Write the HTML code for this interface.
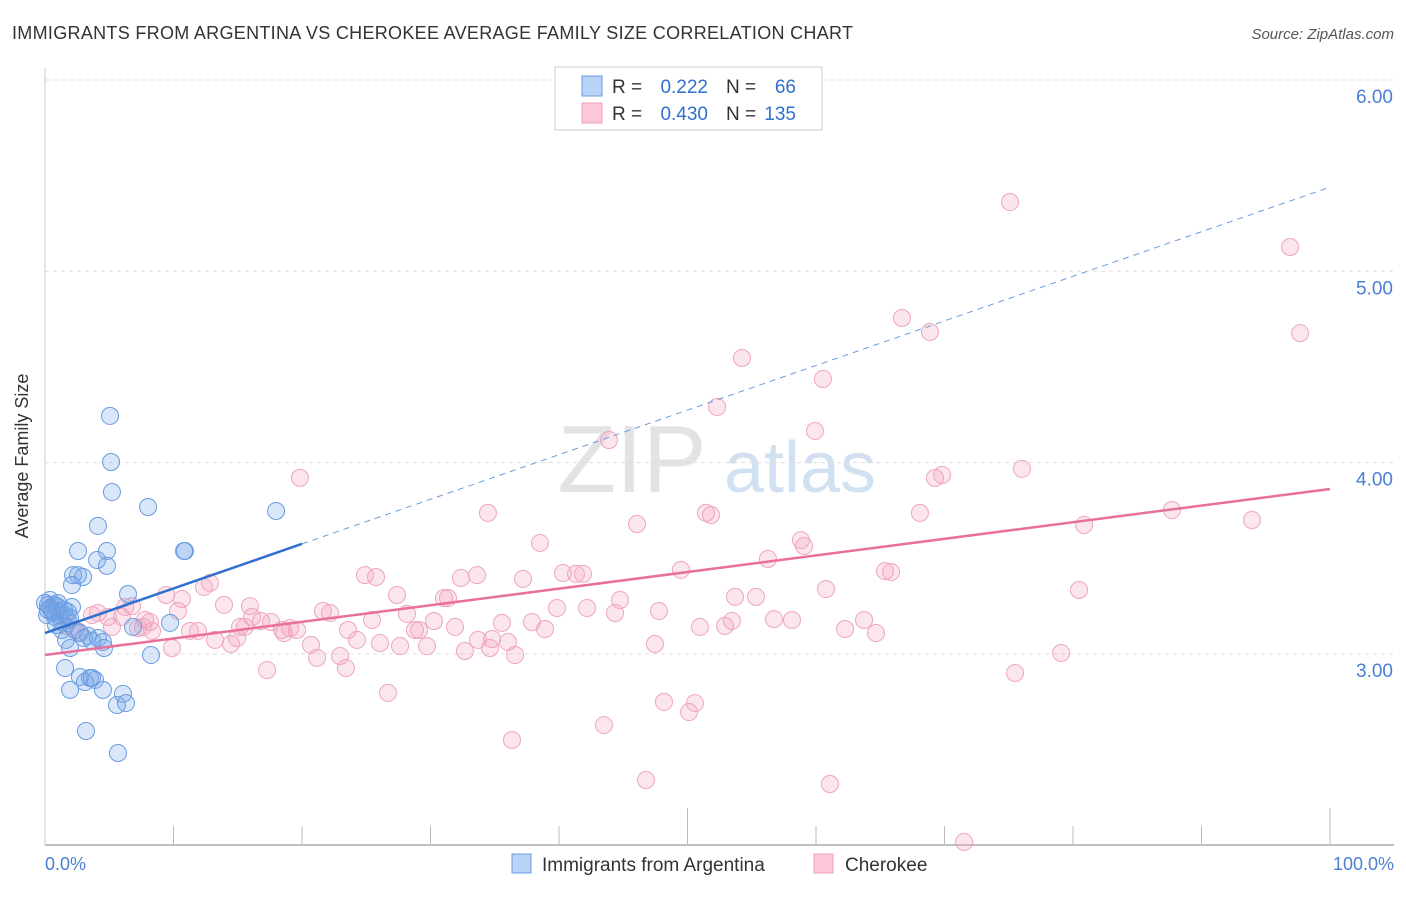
<!DOCTYPE html>
<html><head><meta charset="utf-8"><style>
body{margin:0;background:#fff;font-family:"Liberation Sans",sans-serif}
svg text{font-family:"Liberation Sans",sans-serif}
</style></head><body>
<svg id="c" width="1406" height="892">
<text x="12" y="39" font-size="18" fill="#333" textLength="841">IMMIGRANTS FROM ARGENTINA VS CHEROKEE AVERAGE FAMILY SIZE CORRELATION CHART</text>
<text x="1394" y="39" font-size="15" fill="#555" font-style="italic" text-anchor="end">Source: ZipAtlas.com</text>
<g><text x="632" y="492" font-size="96" fill="#ddd" font-family="Liberation Serif" text-anchor="middle" opacity="0.8">ZIP</text><text x="800" y="492" font-size="72" fill="#c8daf0" text-anchor="middle" opacity="0.8">atlas</text></g>
<g id="grid"></g><g id="axes"></g><g id="pts"></g><g id="lines"></g>
<text x="28" y="456" font-size="18" fill="#333" text-anchor="middle" transform="rotate(-90 28 456)">Average Family Size</text>
<text x="45" y="870" font-size="18" fill="#4a7fd4">0.0%</text>
<text x="1394" y="870" font-size="18" fill="#4a7fd4" text-anchor="end">100.0%</text>
<g>
<rect x="555" y="67" width="267" height="63" fill="#fff" stroke="#ccc"/>
<rect x="582" y="76" width="20" height="20" fill="#b8d3f5" stroke="#6a9be0"/>
<rect x="582" y="103" width="20" height="20" fill="#fcc8d8" stroke="#eca0b8"/>
<text x="612" y="93" font-size="19" fill="#333">R =</text>
<text x="708" y="93" font-size="19" fill="#2f6fd0" text-anchor="end">0.222</text>
<text x="726" y="93" font-size="19" fill="#333">N =</text>
<text x="796" y="93" font-size="19" fill="#2f6fd0" text-anchor="end">66</text>
<text x="612" y="120" font-size="19" fill="#333">R =</text>
<text x="708" y="120" font-size="19" fill="#2f6fd0" text-anchor="end">0.430</text>
<text x="726" y="120" font-size="19" fill="#333">N =</text>
<text x="796" y="120" font-size="19" fill="#2f6fd0" text-anchor="end">135</text>
</g>
<g>
<rect x="512" y="854" width="19" height="19" fill="#b8d3f5" stroke="#6a9be0"/>
<text x="542" y="871" font-size="19" fill="#333">Immigrants from Argentina</text>
<rect x="814" y="854" width="19" height="19" fill="#fcc8d8" stroke="#eca0b8"/>
<text x="845" y="871" font-size="19" fill="#333">Cherokee</text>
</g>
</svg>
<script>
const yTicks=[3,4,5,6];
const yTickLabels=["3.00","4.00","5.00","6.00"];
const blueX=[5.06,5.14,5.21,8.02,4.12,2.57,4.82,4.05,4.82,2.18,2.57,2.96,2.10,17.98,10.89,10.82,6.46,0.39,0.23,0.54,1.17,2.10,1.56,0.78,1.79,2.72,6.85,9.73,1.32,3.35,4.12,4.51,1.63,1.95,4.59,8.25,1.56,2.72,3.50,3.89,3.11,3.66,1.95,4.51,6.07,5.60,6.30,3.19,5.68,0.70,1.01,1.32,2.33,0,0.16,0.86,0.39,0.62,0.93,1.17,1.48,1.79,0.23,1.95,3.03,3.66];
const blueY=[4.244,4.003,3.846,3.768,3.669,3.538,3.538,3.491,3.460,3.412,3.412,3.402,3.360,3.747,3.538,3.538,3.313,3.282,3.256,3.230,3.219,3.245,3.203,3.193,3.177,3.109,3.141,3.162,3.125,3.094,3.083,3.062,3.073,3.031,3.031,2.994,2.926,2.879,2.874,2.864,2.853,2.874,2.812,2.812,2.791,2.733,2.743,2.597,2.482,3.256,3.266,3.167,3.125,3.266,3.203,3.151,3.240,3.219,3.250,3.203,3.230,3.219,3.230,3.188,3.083,3.067];
const pinkX=[75.10,96.89,97.67,66.69,68.87,54.24,60.54,52.30,59.92,43.89,19.84,76.03,69.81,69.26,34.47,46.07,51.44,51.83,68.09,87.70,93.93,80.86,38.52,58.83,59.07,56.26,49.49,65.37,65.84,24.90,25.76,32.37,33.62,37.20,40.31,41.32,41.87,12.84,12.37,60.78,80.47,27.39,31.05,31.36,53.70,55.33,44.75,10.66,9.42,6.23,6.77,13.93,15.95,42.18,39.84,44.36,47.78,4.12,4.90,3.66,10.35,5.99,7.78,8.17,7.24,16.11,16.81,17.59,21.63,22.18,25.45,28.17,30.27,35.56,37.90,38.91,56.73,58.13,63.74,53.46,50.97,52.92,31.91,28.79,29.11,23.58,18.44,19.07,18.60,19.61,15.18,15.56,11.91,11.28,8.33,7.63,5.21,2.65,2.10,1.63,14.94,13.23,14.47,24.28,26.07,27.63,29.73,20.70,33.70,34.79,36.03,34.63,32.68,9.88,47.47,62.26,64.67,21.17,22.96,23.42,17.28,36.58,79.07,75.49,48.17,50.58,50.12,26.69,43.50,36.34,46.77,61.09,71.52,0.93,0.54];
const pinkY=[5.362,5.127,4.677,4.756,4.683,4.547,4.437,4.291,4.165,4.118,3.920,3.967,3.935,3.920,3.737,3.679,3.737,3.726,3.737,3.752,3.700,3.674,3.580,3.595,3.564,3.496,3.439,3.433,3.428,3.412,3.402,3.397,3.412,3.392,3.423,3.418,3.418,3.371,3.350,3.339,3.334,3.308,3.292,3.292,3.298,3.298,3.282,3.287,3.308,3.245,3.250,3.256,3.250,3.240,3.240,3.214,3.224,3.214,3.193,3.203,3.224,3.193,3.177,3.167,3.135,3.193,3.172,3.167,3.224,3.214,3.177,3.209,3.172,3.162,3.167,3.130,3.182,3.177,3.177,3.172,3.141,3.146,3.141,3.125,3.125,3.125,3.125,3.135,3.109,3.125,3.141,3.141,3.120,3.120,3.120,3.141,3.141,3.115,3.141,3.146,3.083,3.073,3.052,3.073,3.057,3.041,3.041,3.047,3.073,3.078,3.062,3.031,3.015,3.031,3.052,3.130,3.109,2.979,2.989,2.926,2.916,2.994,3.005,2.900,2.749,2.743,2.696,2.796,2.628,2.550,2.341,2.320,2.017,3.245,3.219];
const blueTrend=[3.109,5.44];
const pinkTrend=[2.994,3.862];
const NS='http://www.w3.org/2000/svg';
const sx=v=>45+v*12.85, sy=v=>80+(6-v)*191.3;
function mk(t,a,p){const e=document.createElementNS(NS,t);for(const k in a)e.setAttribute(k,a[k]);p.appendChild(e);return e;}
const grid=document.getElementById('grid'),axes=document.getElementById('axes'),pts=document.getElementById('pts'),lines=document.getElementById('lines');
yTicks.forEach((t,i)=>{const l=mk('line',{x1:45,x2:1394,y1:sy(t),y2:sy(t),stroke:'#ddd','stroke-dasharray':'4,4'},grid);


const tx=mk('text',{x:1393,y:sy(t)+23,'font-size':19,fill:'#4a7fd4','text-anchor':'end'},axes);tx.textContent=yTickLabels[i];

});
const ax=mk('line',{x1:45,x2:1394,y1:845,y2:845,stroke:'#aaa','stroke-width':1.5},axes);


const ay=mk('line',{x1:45,x2:45,y1:68,y2:845,stroke:'#ccc'},axes);


for(let i=1;i<=10;i++){const tk=mk('line',{x1:sx(i*10),x2:sx(i*10),y1:(i==5||i==10)?808:826,y2:845,stroke:'#bbb'},axes);

}
function dots(X,Y,fill,stroke,name){X.forEach((x,i)=>{const c=mk('circle',{cx:sx(x),cy:sy(Y[i]),r:8.5,fill:fill,stroke:stroke,'stroke-width':1},pts);

});}
dots(pinkX,pinkY,'rgba(245,165,190,0.28)','#eea5bd','cherokee-point');
dots(blueX,blueY,'rgba(120,170,235,0.28)','#6a9be0','argentina-point');
const bAt=x=>blueTrend[0]+(blueTrend[1]-blueTrend[0])*x/100;
const b1=mk('line',{x1:sx(0),y1:sy(bAt(0)),x2:sx(20),y2:sy(bAt(20)),stroke:'#2f6fd0','stroke-width':2.5},lines);


const b2=mk('line',{x1:sx(20),y1:sy(bAt(20)),x2:sx(100),y2:sy(bAt(100)),stroke:'#6a9be0','stroke-width':1,'stroke-dasharray':'6,5'},lines);


const p1=mk('line',{x1:sx(0),y1:sy(pinkTrend[0]),x2:sx(100),y2:sy(pinkTrend[1]),stroke:'#e8709a','stroke-width':2.5},lines);


</script>
</body></html>
